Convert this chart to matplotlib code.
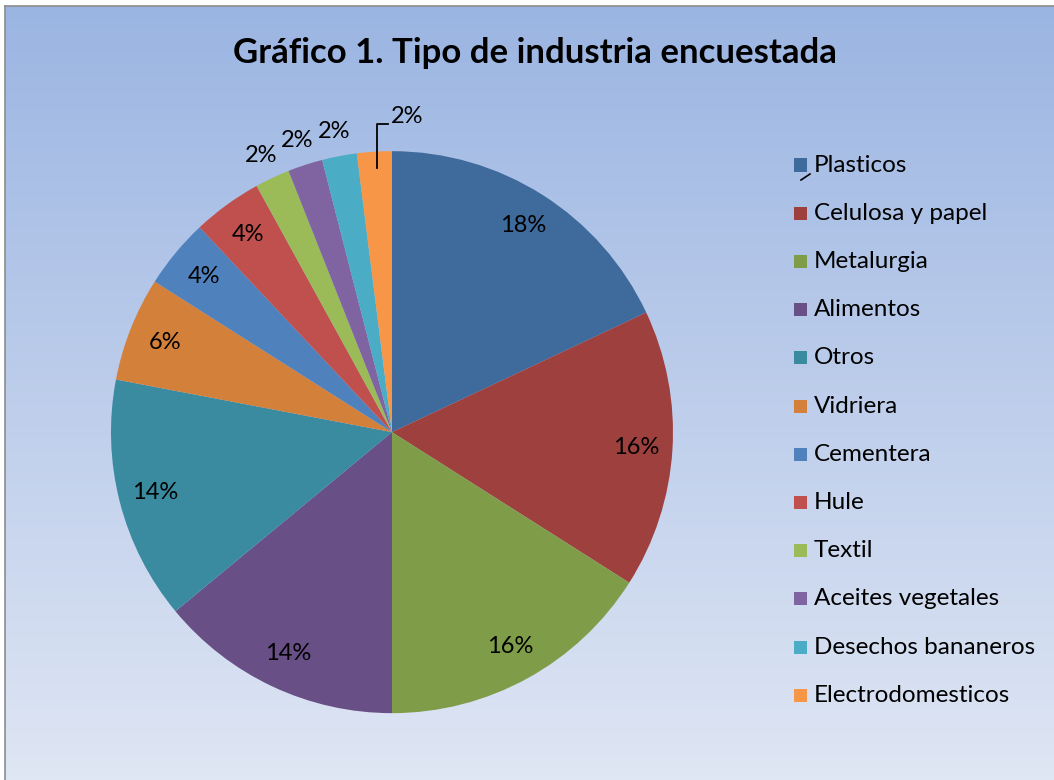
import matplotlib
matplotlib.use("Agg")
import matplotlib.pyplot as plt
import numpy as np
from matplotlib.colors import LinearSegmentedColormap
from matplotlib.patches import Rectangle
from matplotlib.lines import Line2D

categories = ["Plasticos", "Celulosa y papel", "Metalurgia", "Alimentos", "Otros",
              "Vidriera", "Cementera", "Hule", "Textil", "Aceites vegetales",
              "Desechos bananeros", "Electrodomesticos"]
values = [18, 16, 16, 14, 14, 6, 4, 4, 2, 2, 2, 2]
colors = ["#3F6A9C", "#9E413E", "#7F9C49", "#684F86", "#3A8BA0", "#D2803A",
          "#4F81BD", "#C0504D", "#9BBB59", "#8064A2", "#4BACC6", "#F79646"]
title = "Gráfico 1. Tipo de industria encuestada"

plt.rcParams['font.family'] = ['Lato', 'DejaVu Sans']

fig = plt.figure(figsize=(10.54, 7.8), dpi=100)
fig.patch.set_facecolor("white")

# background gradient chart area
bg = fig.add_axes([5/1054, 0, 1 - 5/1054, 1 - 6/780])
cmap = LinearSegmentedColormap.from_list("bg", ["#DFE6F4", "#9BB5E2"])
grad = np.linspace(0, 1, 256).reshape(-1, 1)
bg.imshow(grad, aspect="auto", cmap=cmap, origin="lower", extent=[0, 1, 0, 1])
bg.set_xlim(0, 1); bg.set_ylim(0, 1)
bg.set_xticks([]); bg.set_yticks([])
for s in ["right", "bottom"]:
    bg.spines[s].set_visible(False)
for s in ["left", "top"]:
    bg.spines[s].set_color("#8C8C8C")
    bg.spines[s].set_linewidth(1.2)

fig.text(535/1054, 1 - 53/780, title, ha="center", va="center",
         fontsize=25, fontweight="bold", color="black")

ax = fig.add_axes([0.1053, 0.0857, 0.5332, 0.7205])
total = sum(values)
wedges, texts = ax.pie(values, colors=colors, startangle=90, counterclock=False,
                       radius=1.0, wedgeprops=dict(linewidth=0))
ax.set_xlim(-1, 1); ax.set_ylim(-1, 1)
ax.set_aspect("equal")
ax.axis("off")

# data labels
theta = 90.0
for i, (w, v) in enumerate(zip(wedges, values)):
    span = 360.0 * v / total
    mid = np.deg2rad(theta - span / 2)
    theta -= span
    lab = f"{v}%"
    if v > 2:
        d = 0.87
        x, y = d * np.cos(mid), d * np.sin(mid)
    elif i < len(values) - 1:
        d = 1.09
        x, y = d * np.cos(mid), d * np.sin(mid)
    else:
        x, y = 0.053, 1.125
    ax.text(x, y, lab, ha="center", va="center", fontsize=17, color="black")

# leader line for last label
ax.plot([-0.053, -0.053, -0.014], [0.94, 1.095, 1.095], color="black", lw=1.3,
        clip_on=False)

# legend
leg_y0 = 165
leg_dy = 48.2
for i, (c, n) in enumerate(zip(categories, values)):
    yy = 1 - (leg_y0 + i * leg_dy) / 780
    fig.patches.append(Rectangle((794/1054, yy - 6.5/780), 13/1054, 13/780,
                                 transform=fig.transFigure, facecolor=colors[i],
                                 edgecolor="none"))
    fig.text(814/1054, yy, categories[i], ha="left", va="center", fontsize=17.5,
             color="black")
fig.lines.append(Line2D([801/1054, 810/1054], [1 - 180/780, 1 - 174/780],
                        transform=fig.transFigure, color="black", lw=1.2))

fig.savefig("out.png", dpi=100)
